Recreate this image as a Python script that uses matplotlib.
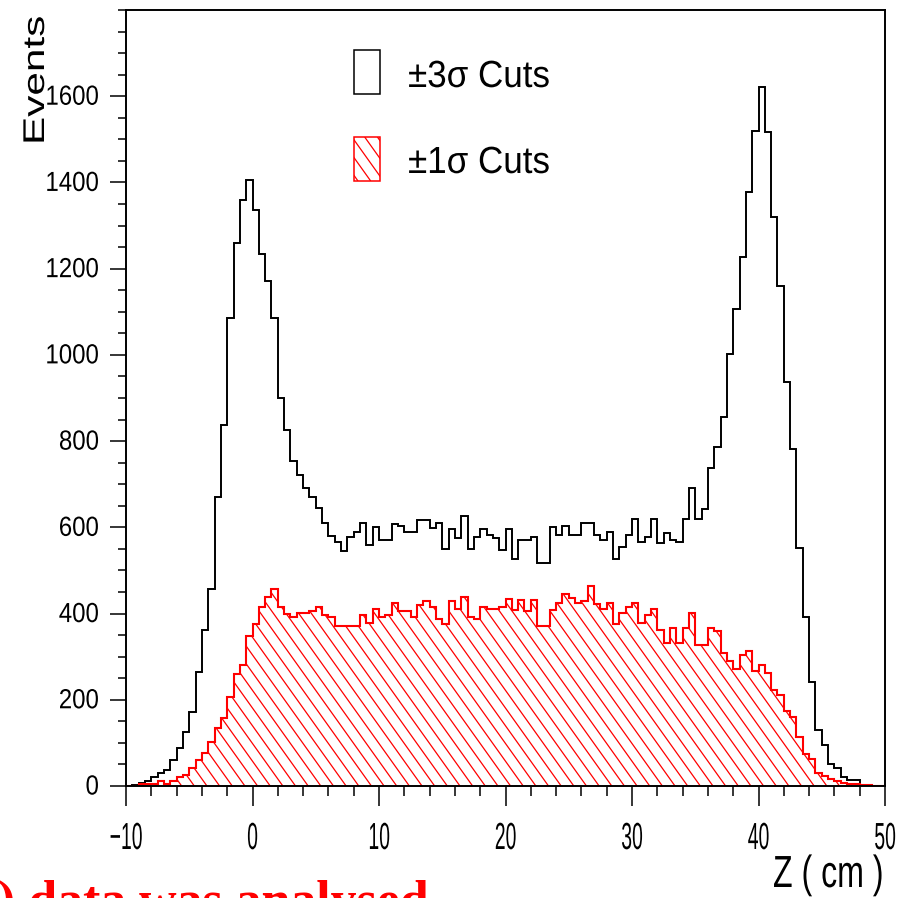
import numpy as np
import matplotlib.pyplot as plt
from matplotlib.collections import LineCollection
from matplotlib.patches import Rectangle
from matplotlib.patheffects import AbstractPathEffect
from matplotlib.transforms import Affine2D

# events per 0.5 cm bin, Z from -10 to 50 cm
z_lo, z_hi, n_bins = -10, 50, 120
cuts_3sigma = [0, 2, 6, 12, 22, 31, 37, 60, 87, 126,
               171, 265, 362, 456, 671, 838, 1085, 1259, 1360, 1406,
               1336, 1234, 1171, 1085, 901, 826, 755, 721, 691, 671,
               644, 611, 580, 567, 546, 577, 590, 611, 559, 600,
               571, 571, 608, 602, 590, 590, 617, 617, 598, 611,
               550, 596, 575, 626, 550, 577, 596, 582, 575, 548,
               596, 526, 571, 571, 577, 517, 517, 600, 582, 602,
               582, 582, 611, 611, 582, 571, 590, 526, 555, 582,
               620, 567, 577, 620, 563, 588, 571, 567, 620, 691,
               620, 642, 737, 786, 855, 1001, 1106, 1226, 1377, 1520,
               1621, 1518, 1319, 1160, 936, 781, 551, 393, 242, 131,
               95, 51, 41, 22, 15, 15, 3, 2, 0, 0]
cuts_1sigma = [0, 0, 4, 4, 4, 11, 4, 11, 22, 26,
               42, 60, 77, 102, 135, 158, 207, 260, 281, 347,
               376, 416, 439, 456, 416, 398, 391, 402, 401, 407,
               415, 397, 393, 371, 371, 371, 371, 397, 378, 411,
               393, 397, 425, 405, 405, 391, 421, 430, 416, 387,
               376, 430, 411, 439, 393, 387, 416, 411, 411, 416,
               434, 408, 432, 407, 431, 371, 371, 408, 425, 445,
               437, 425, 430, 464, 422, 411, 425, 376, 401, 416,
               425, 378, 397, 411, 362, 331, 366, 332, 366, 401,
               327, 327, 366, 360, 308, 289, 271, 304, 314, 266,
               281, 261, 222, 212, 174, 161, 114, 75, 63, 31,
               24, 17, 11, 7, 5, 4, 3, 2, 0, 0]
legend_labels = ['\u00b13\u03c3 Cuts', '\u00b11\u03c3 Cuts']

W, H = 900, 898
plt.rcParams['font.family'] = 'Liberation Sans'


class Stretch(AbstractPathEffect):
    # the scanned plot is stretched, so glyphs get scaled about their baseline
    def __init__(self, sx=1.0, sy=1.0, about='left'):
        super().__init__()
        self.sx, self.sy, self.about = sx, sy, about

    def draw_path(self, renderer, gc, tpath, affine, rgbFace=None):
        ox, oy = affine.transform(np.zeros((1, 2)))[0]
        if self.about == 'center':
            ext = tpath.get_extents(affine)
            ox = 0.5 * (ext.x0 + ext.x1)
        extra = Affine2D().translate(-ox, -oy).scale(self.sx, self.sy).translate(ox, oy)
        renderer.draw_path(gc, tpath, affine + extra, rgbFace)


def fx(px):
    return px / W


def fy(py):
    return 1 - py / H


fig = plt.figure(figsize=(W / 100, H / 100), dpi=100)
ax_l, ax_r, ax_t, ax_b = 126, 885, 10, 786
ax = fig.add_axes([fx(ax_l), fy(ax_b), (ax_r - ax_l) / W, (ax_b - ax_t) / H])

edges = np.linspace(z_lo, z_hi, n_bins + 1)
ax.stairs(cuts_3sigma, edges, color='black', lw=1.4)
fill = ax.stairs(cuts_1sigma, edges, fill=True, facecolor='none', edgecolor='none')

# hatch lines, slope 1.4 in pixels, one line per cm along the baseline
y_max = 1800
slope = 1.4 * ((ax_r - ax_l) / (z_hi - z_lo)) / ((ax_b - ax_t) / y_max)
segs = [[(x0 - y_max / slope, y_max), (x0, 0)] for x0 in np.arange(-9.6, 100, 1.0)]
lc = LineCollection(segs, colors='red', linewidths=0.9)
ax.add_collection(lc)
lc.set_clip_path(fill)
ax.stairs(cuts_1sigma, edges, color='red', lw=1.5)

ax.set_xlim(z_lo, z_hi)
ax.set_ylim(0, y_max)
ax.set_xticks(np.arange(-10, 51, 10))
ax.set_xticks(np.arange(-10, 51, 2), minor=True)
ax.set_yticks(np.arange(0, 1601, 200))
ax.set_yticks(np.arange(0, 1801, 50), minor=True)
for s in ax.spines.values():
    s.set_linewidth(1.4)
ax.tick_params(axis='both', which='both', direction='out', width=1.1, color='black')
ax.tick_params(axis='x', which='major', length=14.4, pad=(849 - 786 - 20) * 0.72,
               labelsize=19.4)
ax.tick_params(axis='x', which='minor', length=7.2)
ax.tick_params(axis='y', which='major', length=11.5, pad=8, labelsize=17.3)
ax.tick_params(axis='y', which='minor', length=5.8)
for lbl in ax.get_xticklabels():
    lbl.set_va('baseline')
    lbl.set_path_effects([Stretch(0.72, 1.4, about='center')])
for lbl in ax.get_yticklabels():
    lbl.set_path_effects([Stretch(1.0, 1.15)])

# axis titles
fig.text(fx(773), fy(887), 'Z ( cm )', fontsize=21.6, ha='left', va='baseline',
         path_effects=[Stretch(1.07, 1.5)])
fig.text(fx(44), fy(145), 'Events', fontsize=21.6, rotation=90, rotation_mode='anchor',
         ha='left', va='baseline', path_effects=[Stretch(1.0, 1.41)])

# legend drawn by hand
box_x, box_w, box_h = 354, 26, 44
fig.add_artist(Rectangle((fx(box_x), fy(50 + box_h)), box_w / W, box_h / H,
                         transform=fig.transFigure, fill=False, ec='black', lw=1.1))
red_box = Rectangle((fx(box_x), fy(137 + box_h)), box_w / W, box_h / H,
                    transform=fig.transFigure, fill=False, ec='red', lw=1.1)
fig.add_artist(red_box)
box_segs = [[(fx(xb - box_h / 1.4), fy(137)), (fx(xb), fy(137 + box_h))]
            for xb in np.arange(box_x + 4, box_x + 70, 12.7)]
box_lc = LineCollection(box_segs, colors='red', linewidths=0.9, transform=fig.transFigure)
fig.add_artist(box_lc)
box_lc.set_clip_path(red_box)
for lab, base in zip(legend_labels, [87, 173]):
    fig.text(fx(408), fy(base), lab, fontsize=25.2, ha='left', va='baseline',
             path_effects=[Stretch(1.0, 1.08)])

# slide caption cut off at the bottom of the scan
fig.text(fx(-2), fy(917), ') data was analysed', family='Liberation Serif',
         weight='bold', color='red', fontsize=37.4, ha='left', va='baseline')

fig.savefig('out.png', dpi=100)
